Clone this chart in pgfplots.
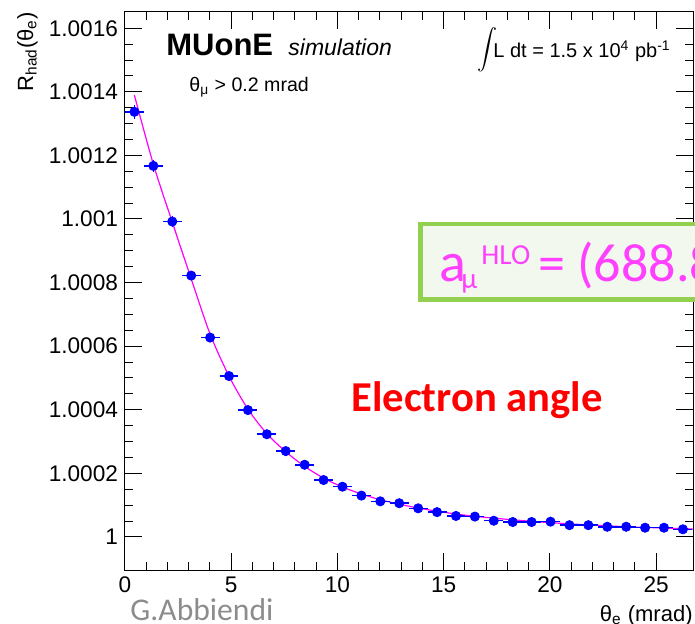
\documentclass[border=0pt]{standalone}
\usepackage{fontspec}
\setmainfont{Liberation Sans}
\newfontfamily\carlito{Carlito}
\usepackage{pgfplots}
\usepackage{pgfplotstable}
\pgfplotsset{compat=1.18}

\definecolor{rootblue}{RGB}{0,0,255}
\definecolor{rootmag}{RGB}{255,0,255}
\definecolor{boxgreen}{RGB}{146,208,80}
\definecolor{boxfill}{RGB}{242,248,237}
\definecolor{pinktext}{RGB}{255,64,255}
\definecolor{abgray}{RGB}{140,140,140}

% y values stored as (R_had - 1) in units of 1e-4
\pgfplotstableread{
x y ex ey
0.445 13.37 0.445 0.22
1.335 11.67 0.445 0.18
2.225 9.92 0.445 0.16
3.115 8.22 0.445 0.15
4.005 6.27 0.445 0.14
4.895 5.06 0.445 0.13
5.785 3.99 0.445 0.12
6.675 3.23 0.445 0.12
7.565 2.70 0.445 0.11
8.455 2.27 0.445 0.11
9.345 1.79 0.445 0.10
10.235 1.58 0.445 0.10
11.125 1.30 0.445 0.10
12.015 1.12 0.445 0.10
12.905 1.06 0.445 0.10
13.795 0.90 0.445 0.10
14.685 0.78 0.445 0.10
15.575 0.66 0.445 0.10
16.465 0.64 0.445 0.10
17.355 0.51 0.445 0.10
18.245 0.47 0.445 0.10
19.135 0.47 0.445 0.10
20.025 0.48 0.445 0.10
20.915 0.37 0.445 0.10
21.805 0.37 0.445 0.10
22.695 0.32 0.445 0.10
23.585 0.32 0.445 0.10
24.475 0.29 0.445 0.10
25.365 0.29 0.445 0.10
26.255 0.24 0.445 0.10
}\datatab

\pgfplotstableread{
x y
0.44 13.90
1.335 11.72
2.225 9.90
3.115 8.12
4.005 6.38
4.895 5.06
5.785 4.02
6.675 3.25
7.565 2.68
8.455 2.22
9.345 1.85
10.235 1.57
11.125 1.35
12.015 1.17
12.905 1.03
13.795 0.91
14.685 0.81
15.575 0.72
16.465 0.65
17.355 0.59
18.245 0.54
19.135 0.49
20.025 0.45
20.915 0.41
21.805 0.38
22.695 0.35
23.585 0.32
24.475 0.30
25.365 0.28
26.255 0.26
26.73 0.25
}\curvetab

\begin{document}
\begin{tikzpicture}
\useasboundingbox (0,0) rectangle (347.5pt,-312pt);
\clip (0,0) rectangle (347.5pt,-312pt);
\begin{axis}[
  at={(62.5pt,-285pt)}, anchor=south west,
  scale only axis, width=284pt, height=279.15pt,
  xmin=0, xmax=26.73, ymin=-1.04, ymax=16.52,
  xtick={0,5,...,25}, minor x tick num=4,
  ytick={0,2,...,16},
  yticklabels={1,1.0002,1.0004,1.0006,1.0008,1.001,1.0012,1.0014,1.0016},
  minor y tick num=3,
  tick align=inside, major tick length=8.5pt, minor tick length=4pt,
  axis line style={line width=0.5pt},
  every tick/.style={line width=0.5pt, black},
  /pgf/number format/assume math mode=true,
  ticklabel style={font=\fontsize{11.3}{13}\selectfont},
  clip=true,
]
\addplot[rootmag, line width=0.6pt, smooth, no marks] table[x=x,y=y] {\curvetab};
\addplot[only marks, mark=*, mark size=2.3pt, color=rootblue,
  error bars/.cd, x dir=both, x explicit, y dir=both, y explicit,
  error mark=none, error bar style={line width=0.75pt, rootblue}]
  table[x=x,y=y,x error=ex,y error=ey] {\datatab};
\end{axis}
\begin{scope}[x=0.5pt,y=-0.5pt]
  % axis titles
  \node[rotate=90, anchor=base east, inner sep=0pt] at (33,12)
    {\fontsize{11}{13}\selectfont R\textsubscript{had}(θ\textsubscript{e})};
  \node[anchor=base east, inner sep=0pt] at (693,621)
    {\fontsize{11}{13}\selectfont θ\textsubscript{e} (mrad)};
  % header texts
  \node[anchor=base west, inner sep=0pt] at (166,55.7)
    {\fontsize{15.5}{17}\selectfont\bfseries MUonE};
  \node[anchor=base west, inner sep=0pt] at (288,55.7)
    {\fontsize{11.5}{13}\selectfont\itshape simulation};
  \node[anchor=base west, inner sep=0pt] at (189,91.5)
    {\fontsize{9.8}{12}\selectfont θ\textsubscript{μ} > 0.2 mrad};
  \node[anchor=center, inner sep=0pt] at (487,50)
    {\fontsize{9.5}{10}\selectfont$\displaystyle\int$};
  \node[anchor=base west, inner sep=0pt] at (493,57.7)
    {\fontsize{10}{12}\selectfont L dt = 1.5 x 10\textsuperscript{4} pb\textsuperscript{-1}};
  % green box
  \draw[boxgreen, line width=2.2pt, fill=boxfill] (420.5,224.2) rectangle (780,299.5);
  \node[anchor=base west, inner sep=0pt, text=pinktext] at (439,282)
    {\carlito\fontsize{28}{30}\selectfont a};
  \node[anchor=base west, inner sep=0pt, text=pinktext] at (461,289)
    {\carlito\fontsize{14.5}{16}\selectfont μ};
  \node[anchor=base west, inner sep=0pt, text=pinktext] at (481,265)
    {\carlito\fontsize{14.5}{16}\selectfont HLO};
  \node[anchor=base west, inner sep=0pt, text=pinktext] at (538,282)
    {\carlito\fontsize{27}{30}\selectfont = (688.8};
  % red label
  \node[anchor=base west, inner sep=0pt, text=red] at (351,411.7)
    {\carlito\fontsize{21.3}{25}\selectfont\bfseries Electron angle};
  % author
  \node[anchor=base west, inner sep=0pt, text=abgray] at (130,620)
    {\carlito\fontsize{15.8}{18}\selectfont G.Abbiendi};
\end{scope}
\end{tikzpicture}
\end{document}
